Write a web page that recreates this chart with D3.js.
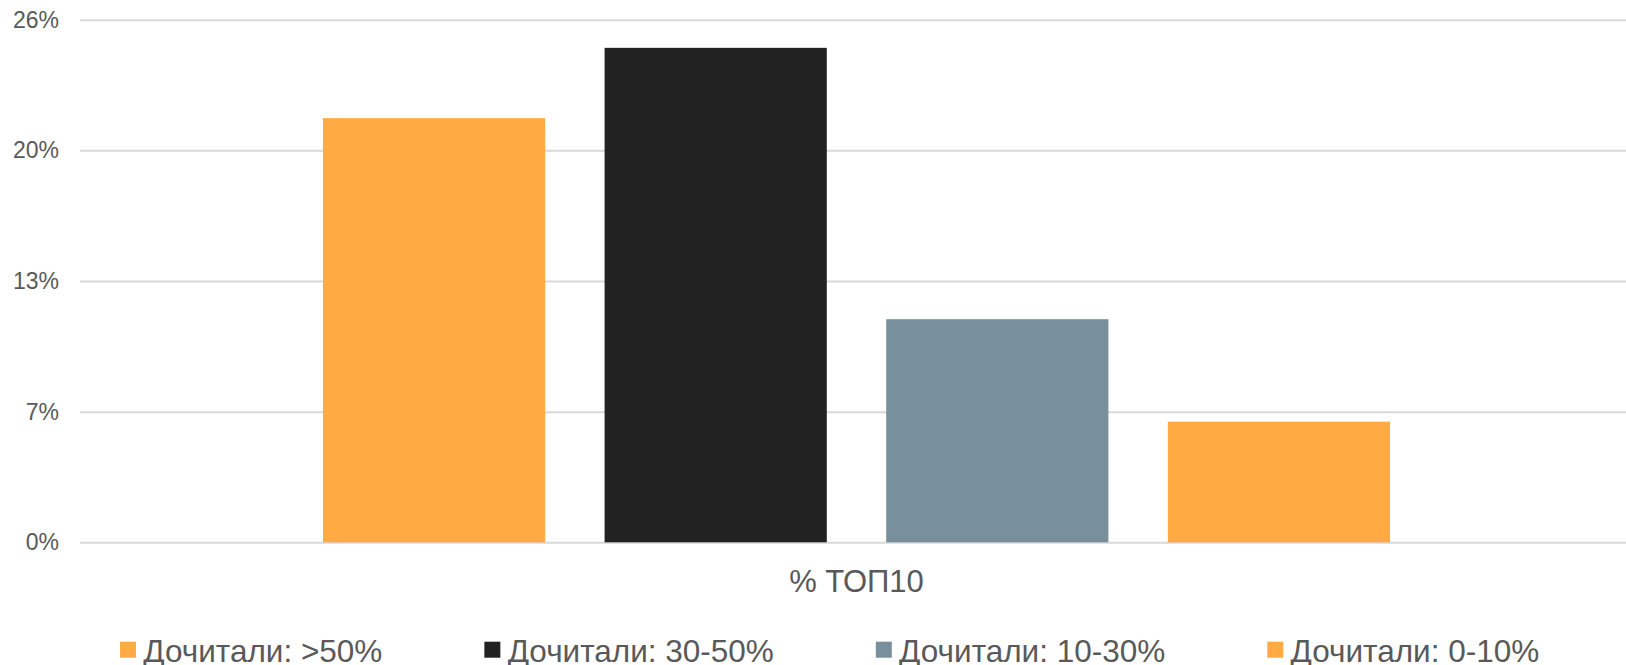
<!DOCTYPE html>
<html><head><meta charset="utf-8">
<script src="https://cdn.jsdelivr.net/npm/d3@7/dist/d3.min.js"></script>
<style>body{margin:0;background:#fff}svg{display:block}</style>
</head><body>
<script>
const categories = ["% ТОП10"];
const seriesNames = ["Дочитали: >50%", "Дочитали: 30-50%", "Дочитали: 10-30%", "Дочитали: 0-10%"];
const seriesValues = [21.1, 24.6, 11.1, 6.0];
const seriesColors = ["#FFAA42", "#222222", "#78909C", "#FFAA42"];
const tickValues = [0, 6.5, 13, 19.5, 26];
const tickLabels = ["0%", "7%", "13%", "20%", "26%"];

const W = 1626, H = 665;
const plot = {left: 80, right: 1633, top: 19.7, bottom: 542.3};
const svg = d3.select("body").append("svg").attr("width", W).attr("height", H);

const y = d3.scaleLinear().domain([0, 26]).range([plot.bottom, plot.top]);
const xCat = d3.scaleBand().domain(categories).range([plot.left, plot.right]).paddingOuter(0.2277).paddingInner(0);
const xSer = d3.scaleBand().domain(seriesNames).range([0, xCat.bandwidth()]).paddingInner(0.211).paddingOuter(0);

// gridlines
const yAxis = d3.axisLeft(y).tickValues(tickValues).tickSize(-(W - plot.left)).tickFormat((d, i) => tickLabels[i]);
const gy = svg.append("g").attr("transform", `translate(${plot.left},0)`).call(yAxis);
gy.select(".domain").remove();
gy.selectAll(".tick line").attr("stroke", "#D9D9D9").attr("stroke-width", 2);
gy.selectAll(".tick text").attr("x", -21).attr("fill", "#595959")
  .style("font-family", "'Liberation Sans', Arial, sans-serif").style("font-size", "23px");

// bars
const g = svg.append("g");
categories.forEach(cat => {
  g.selectAll("rect.bar").data(seriesValues).enter().append("rect")
    .attr("class", "bar")
    .attr("x", (d, i) => xCat(cat) + xSer(seriesNames[i]))
    .attr("width", xSer.bandwidth())
    .attr("y", d => y(d))
    .attr("height", d => y(0) - y(d))
    .attr("fill", (d, i) => seriesColors[i]);
});

// category label
svg.append("g").selectAll("text").data(categories).enter().append("text")
  .attr("x", d => xCat(d) + xCat.bandwidth() / 2)
  .attr("y", 592)
  .attr("text-anchor", "middle")
  .attr("fill", "#595959")
  .style("font-family", "'Liberation Sans', Arial, sans-serif").style("font-size", "31px")
  .text(d => d);

// legend
const leg = svg.append("g");
let lx = 120;
seriesNames.forEach((name, i) => {
  leg.append("rect").attr("x", lx).attr("y", 641.7).attr("width", 16).attr("height", 16).attr("fill", seriesColors[i]);
  const t = leg.append("text").attr("x", lx + 23.3).attr("y", 661.7)
    .attr("fill", "#595959")
    .style("font-family", "'Liberation Sans', Arial, sans-serif").style("font-size", "31.5px")
    .text(name);
  lx += 23.3 + t.node().getComputedTextLength() + 102;
});
</script>
</body></html>
